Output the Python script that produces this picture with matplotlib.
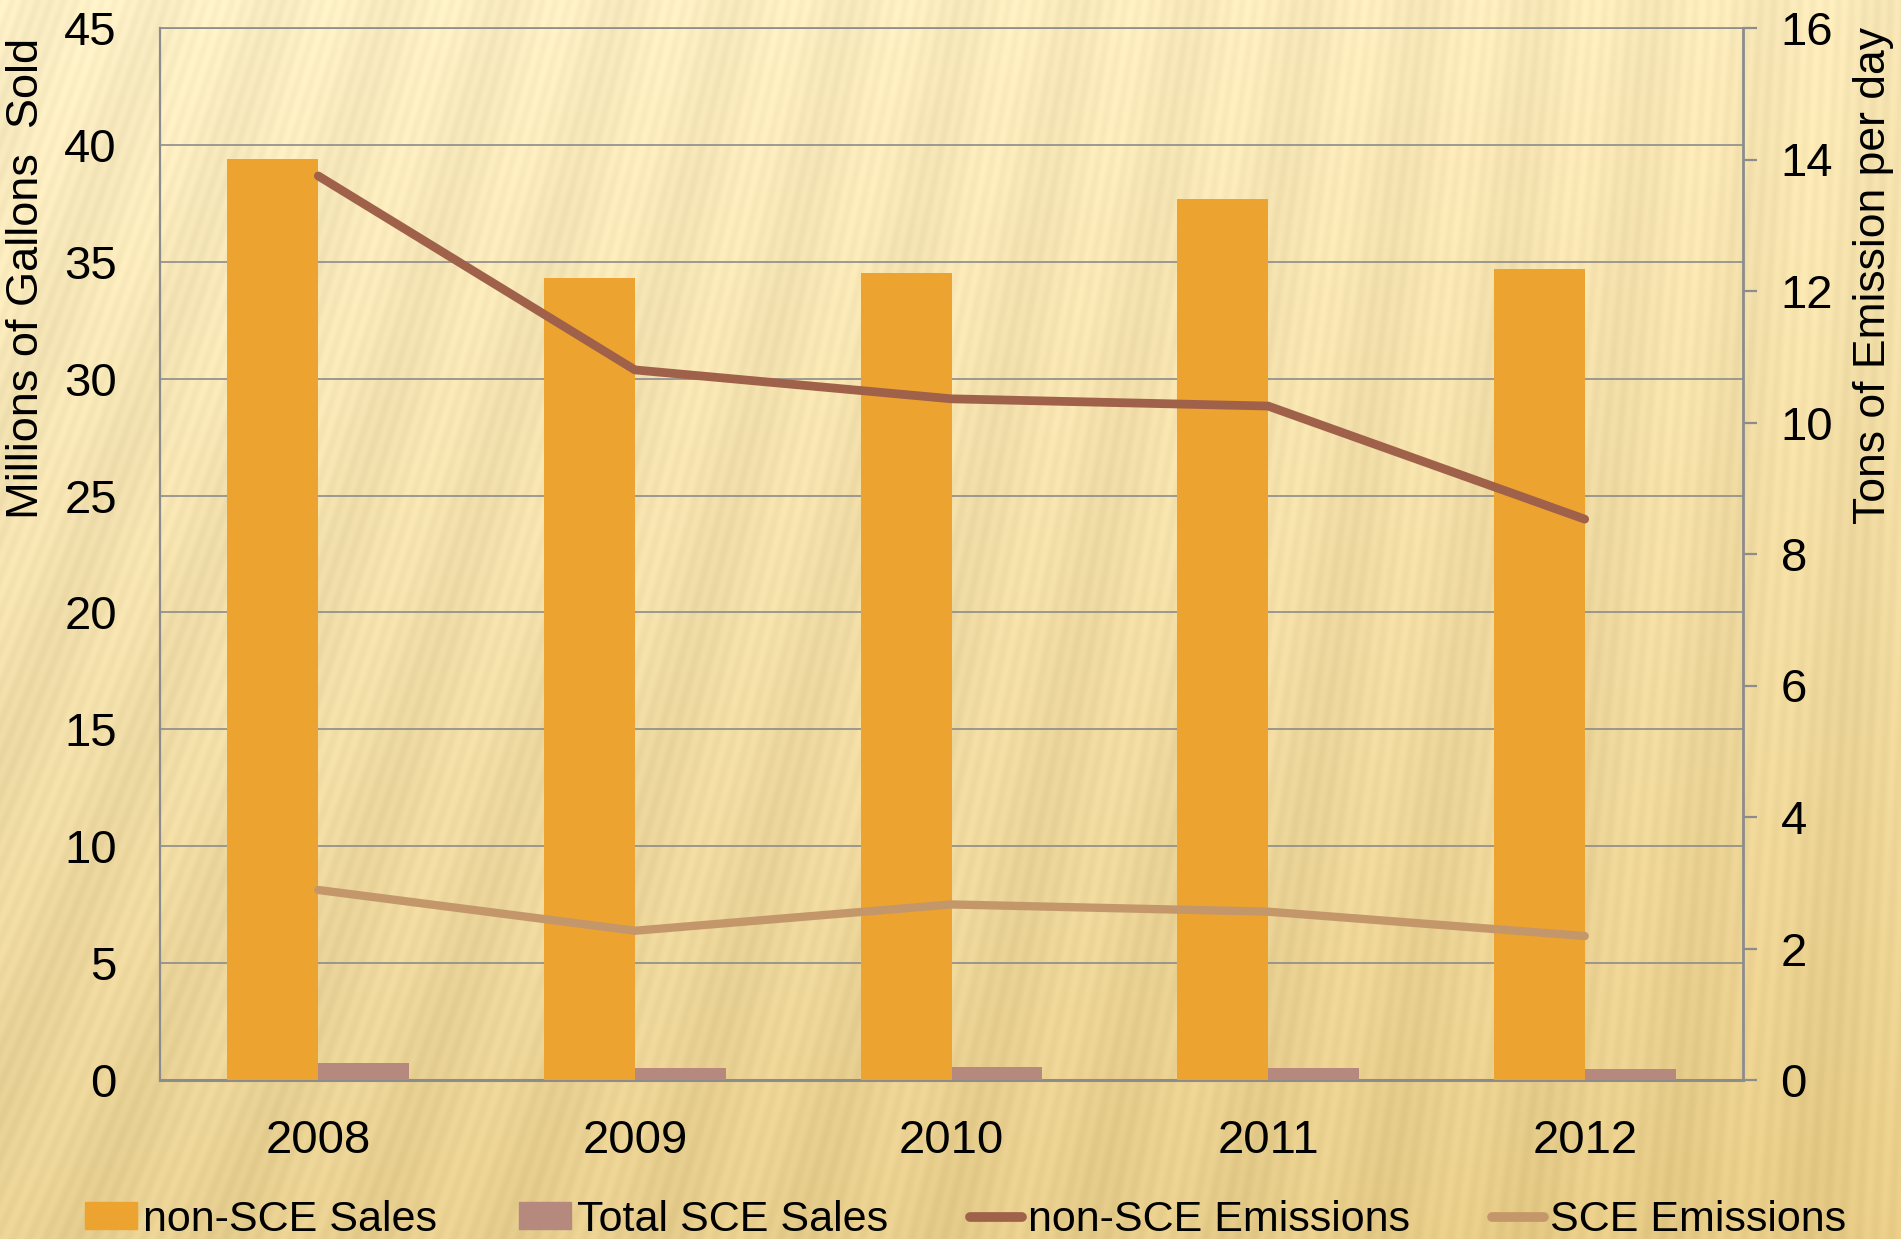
"""Gasoline sales vs. emissions, SCE and non-SCE, 2008-2012 (bars + twin-axis lines)."""

import matplotlib

matplotlib.use("Agg")
import matplotlib.pyplot as plt
import numpy as np
from matplotlib.lines import Line2D
from matplotlib.patches import Patch

years = ["2008", "2009", "2010", "2011", "2012"]
non_sce_sales = [39.4, 34.3, 34.5, 37.7, 34.7]        # millions of gallons
total_sce_sales = [0.72, 0.51, 0.57, 0.52, 0.47]      # millions of gallons
non_sce_emissions = [13.75, 10.8, 10.36, 10.25, 8.53]  # tons per day
sce_emissions = [2.89, 2.27, 2.67, 2.56, 2.19]        # tons per day

_C_NON_SALES = "#EDA330"
_C_SCE_SALES = "#B5897D"
_C_NON_EMIS = "#A0614A"
_C_SCE_EMIS = "#C4976B"
_C_GRID = "#8C8C8C"

W, H = 1901, 1239
plt.rcParams["font.family"] = ["Liberation Sans", "DejaVu Sans"]

fig = plt.figure(figsize=(W / 100, H / 100), dpi=100)

# --- slide-style background: warm gradient with fine slanted streaks ---
yy, xx = np.mgrid[0:H, 0:W]
t = yy / H
top = np.array([252, 239, 198], float)
bot = np.array([232, 208, 146], float)
base = top[None, None, :] * (1 - t[..., None]) + bot[None, None, :] * t[..., None]
base -= (xx / W)[..., None] * np.array([2, 6, 14])
slant = 0.4 * (1 - xx / W) + 0.05
phase = (xx - slant * (H - yy))
streak = 3.5 * np.sin(phase / 2.6) + 4.0 * np.sin(phase / 23.0 + 1.3)
img = np.clip(base + streak[..., None], 0, 255).astype(np.uint8)
bg = fig.add_axes([0, 0, 1, 1], zorder=-10)
bg.imshow(img, aspect="auto", interpolation="bilinear")
bg.axis("off")

ax = fig.add_axes([160 / W, 1 - 1080 / H, (1743 - 160) / W, (1080 - 28) / H])
ax.patch.set_alpha(0)
x = np.arange(len(years))
w = 0.287
ax.bar(x - w / 2, non_sce_sales, w, color=_C_NON_SALES, zorder=3)
ax.bar(x + w / 2, total_sce_sales, w, color=_C_SCE_SALES, zorder=3)
ax.set_xlim(-0.5, len(years) - 0.5)
ax.set_ylim(0, 45)
ax.set_yticks(np.arange(0, 46, 5))
ax.set_xticks(x)
ax.set_xticklabels(years)
ax.tick_params(axis="y", length=0, pad=31, labelsize=34)
ax.tick_params(axis="x", length=0, pad=28, labelsize=34)
ax.yaxis.grid(True, color=_C_GRID, lw=1.2, zorder=0)
ax.set_axisbelow(True)
for s in ("left", "bottom", "right", "top"):
    ax.spines[s].set_color(_C_GRID)
ax.spines["left"].set_linewidth(1.6)
ax.spines["bottom"].set_linewidth(2.2)
ax.spines["top"].set_linewidth(1.2)
ax.spines["right"].set_visible(False)

ax2 = ax.twinx()
ax2.plot(x, non_sce_emissions, color=_C_NON_EMIS, lw=6.3,
         solid_capstyle="round", solid_joinstyle="round", zorder=4)
ax2.plot(x, sce_emissions, color=_C_SCE_EMIS, lw=6.0,
         solid_capstyle="round", solid_joinstyle="round", zorder=4)
ax2.set_ylim(0, 16)
ax2.set_yticks(np.arange(0, 17, 2))
ax2.tick_params(axis="y", length=10, width=1.6, color=_C_GRID, pad=17,
                labelsize=34)
for s in ("left", "bottom", "top"):
    ax2.spines[s].set_visible(False)
ax2.spines["right"].set_color(_C_GRID)
ax2.spines["right"].set_linewidth(2.0)

fig.text(27 / W, 1 - 278 / H, "Millions of Gallons  Sold", rotation=90,
         ha="center", va="center", fontsize=32.5)
fig.text(1873 / W, 1 - 276 / H, "Tons of Emission per day", rotation=90,
         ha="center", va="center", fontsize=32)

handles = [
    Patch(color=_C_NON_SALES, label="non-SCE Sales"),
    Patch(color=_C_SCE_SALES, label="Total SCE Sales"),
    Line2D([], [], color=_C_NON_EMIS, lw=7, solid_capstyle="round",
           label="non-SCE Emissions"),
    Line2D([], [], color=_C_SCE_EMIS, lw=7, solid_capstyle="round",
           label="SCE Emissions"),
]
fig.legend(handles=handles, loc="center left",
           bbox_to_anchor=(85 / W, 1 - 1220 / H), ncol=4, frameon=False,
           fontsize=31, handlelength=1.2, handleheight=0.58,
           handletextpad=0.15, columnspacing=1.9, borderpad=0,
           borderaxespad=0)

fig.savefig("out.png", dpi=100)
